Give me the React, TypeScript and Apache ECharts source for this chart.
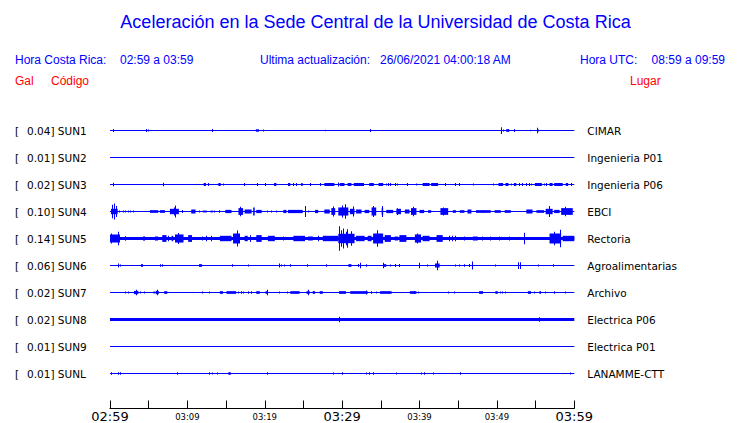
import React, { useEffect, useRef } from "react";
import * as echarts from "echarts";

// ---- data ----
const TRACE_CODES = ["SUN1", "SUN2", "SUN3", "SUN4", "SUN5", "SUN6", "SUN7", "SUN8", "SUN9", "SUNL"];
const TRACE_SCALES = ["0.04", "0.01", "0.02", "0.10", "0.14", "0.06", "0.02", "0.02", "0.01", "0.01"];
const TRACE_PLACES = ["CIMAR", "Ingenieria P01", "Ingenieria P06", "EBCI", "Rectoria", "Agroalimentarias", "Archivo", "Electrica P06", "Electrica P01", "LANAMME-CTT"];
// background noise level of each trace (fraction of half row)
const BASE_LEVEL = [0, 0, 0, 0, 0.12, 0, 0, 0.12, 0, 0];

// minutes after 02:59 ; [t, amp] single spike or [t0, t1, amp] burst
const SUN1_BURSTS = [[0.43, 0.12], [4.69, 0.12], [4.95, 0.07], [13.2, 0.12], [18.85, 19.25, 0.1], [19.8, 0.07], [27.8, 0.05], [33.6, 0.12], [50.6, 0.25], [50.9, 0.07], [51.2, 51.6, 0.1], [52.3, 0.12], [54.4, 0.05], [55.2, 0.2], [55.4, 0.07]];
const SUN2_BURSTS: number[][] = [];
const SUN3_BURSTS = [[0.43, 0.13], [6.88, 0.13], [12.1, 12.4, 0.11], [12.7, 0.11], [14.0, 14.3, 0.11], [14.7, 0.08], [17.4, 0.11], [19.05, 0.11], [20.1, 0.11], [21.2, 21.5, 0.11], [23.0, 23.3, 0.11], [23.7, 0.11], [24.1, 0.11], [24.7, 24.9, 0.11], [25.9, 0.11], [27.2, 0.11], [27.7, 29.0, 0.11], [29.5, 0.15], [29.7, 30.3, 0.11], [30.7, 31.2, 0.11], [31.5, 32.7, 0.11], [32.8, 0.11], [33.5, 34.1, 0.11], [34.7, 35.3, 0.11], [35.7, 0.08], [36.0, 0.11], [36.3, 0.11], [36.9, 0.11], [37.2, 0.08], [38.5, 0.11], [39.6, 0.08], [40.4, 41.3, 0.11], [41.5, 42.4, 0.11], [43.3, 0.11], [44.7, 0.11], [45.2, 0.11], [47.0, 0.08], [49.5, 0.08], [50.2, 50.8, 0.11], [51.1, 51.5, 0.11], [51.9, 0.08], [52.2, 52.5, 0.11], [52.9, 0.11], [53.3, 0.11], [53.8, 0.11], [54.2, 0.11], [54.5, 0.08], [54.9, 55.8, 0.11], [56.1, 0.08], [56.4, 0.11], [56.8, 57.2, 0.11], [57.4, 58.5, 0.11], [58.9, 59.2, 0.11], [59.6, 0.11]];
const SUN4_BURSTS = [[0.13, 0.99, 0.2], [0.3, 0.5], [0.52, 0.59], [0.8, 0.4], [1.29, 0.07], [1.72, 0.07], [2.02, 0.07], [2.37, 0.07], [2.67, 0.07], [3.05, 0.07], [5.16, 6.24, 0.1], [6.45, 7.1, 0.1], [7.74, 8.9, 0.2], [8.3, 0.3], [8.47, 0.44], [9.33, 0.12], [10.5, 11.05, 0.15], [11.6, 0.07], [12.0, 12.5, 0.07], [13.0, 13.3, 0.07], [13.5, 0.07], [14.2, 0.1], [14.9, 15.7, 0.12], [16.6, 17.2, 0.25], [16.9, 0.35], [17.4, 18.3, 0.15], [18.5, 18.7, 0.3], [18.9, 19.6, 0.12], [20.4, 0.07], [20.9, 0.07], [21.5, 0.07], [22.4, 22.8, 0.12], [23.0, 24.9, 0.12], [25.3, 0.4], [25.6, 0.07], [26.5, 26.9, 0.12], [27.7, 28.4, 0.15], [28.6, 29.1, 0.25], [28.9, 0.37], [29.5, 30.8, 0.3], [30.0, 0.44], [30.4, 0.54], [31.0, 31.6, 0.2], [31.5, 0.37], [31.8, 32.5, 0.15], [32.9, 33.5, 0.12], [33.8, 34.4, 0.3], [34.1, 0.4], [35.1, 35.3, 0.25], [35.2, 0.4], [35.7, 36.6, 0.12], [37.0, 37.6, 0.2], [37.2, 0.25], [38.1, 38.7, 0.15], [38.9, 39.6, 0.25], [39.2, 0.35], [40.0, 40.6, 0.12], [41.1, 41.5, 0.1], [42.7, 43.7, 0.25], [43.1, 0.3], [44.3, 44.7, 0.1], [45.2, 45.8, 0.1], [46.2, 46.7, 0.15], [47.3, 49.2, 0.1], [49.7, 50.5, 0.1], [51.0, 51.8, 0.1], [53.8, 54.6, 0.15], [55.1, 56.1, 0.1], [56.3, 57.2, 0.2], [56.8, 0.4], [57.4, 58.1, 0.12], [58.3, 59.8, 0.25], [58.9, 0.35]];
const SUN5_BURSTS = [[0, 1.29, 0.3], [0.22, 0.37], [1.08, 0.5], [2.0, 0.17], [4.3, 4.5, 0.17], [5.8, 6.2, 0.15], [6.75, 7.3, 0.25], [7.5, 0.2], [7.96, 8.17, 0.2], [8.4, 9.5, 0.3], [8.9, 0.4], [10.1, 10.6, 0.25], [12.0, 0.15], [12.5, 0.2], [13.1, 0.2], [14.2, 15.7, 0.2], [15.9, 16.8, 0.37], [16.5, 0.59], [17.4, 17.8, 0.2], [18.2, 0.25], [18.9, 19.6, 0.25], [20.4, 21.3, 0.2], [22.4, 0.15], [23.7, 25.2, 0.2], [25.6, 26.2, 0.15], [26.9, 0.2], [27.5, 29.5, 0.2], [29.5, 31.6, 0.35], [29.6, 0.91], [29.9, 0.62], [30.2, 0.74], [30.5, 0.5], [30.75, 0.69], [31.2, 0.54], [31.8, 32.9, 0.2], [33.3, 33.8, 0.2], [34.0, 35.3, 0.37], [34.6, 0.62], [35.5, 36.3, 0.25], [36.8, 37.2, 0.15], [37.4, 38.3, 0.25], [39.4, 40.2, 0.3], [39.8, 0.37], [40.4, 41.3, 0.2], [42.2, 43.0, 0.25], [43.9, 0.2], [44.3, 0.2], [44.7, 0.2], [45.8, 0.15], [46.9, 47.5, 0.15], [48.2, 0.15], [49.2, 0.15], [50.3, 0.15], [51.6, 0.15], [53.6, 0.42], [56.8, 58.3, 0.37], [57.4, 0.5], [58.2, 0.64], [58.5, 60, 0.2]];
const SUN6_BURSTS = [[1.08, 0.15], [1.42, 0.07], [4.0, 4.26, 0.1], [6.54, 0.1], [6.75, 0.1], [11.5, 11.9, 0.1], [15.8, 0.1], [17.85, 0.07], [21.85, 0.15], [22.1, 0.07], [22.6, 0.07], [23.3, 0.1], [25.5, 0.1], [27.96, 0.1], [30.8, 31.2, 0.1], [32.1, 0.12], [32.4, 0.2], [33.2, 0.1], [35.3, 35.7, 0.1], [35.4, 0.2], [36.3, 0.07], [36.9, 0.12], [37.4, 0.12], [40.0, 0.2], [41.0, 0.07], [42.0, 42.6, 0.15], [42.3, 0.35], [44.7, 0.07], [45.2, 0.07], [45.8, 0.1], [46.5, 0.12], [46.9, 0.3], [49.8, 0.07], [52.8, 0.25], [53.1, 0.25], [55.4, 0.07], [57.3, 0.1]];
const SUN7_BURSTS = [[2.0, 0.07], [2.37, 0.07], [3.1, 3.66, 0.12], [3.4, 0.2], [4.0, 0.07], [4.5, 0.07], [5.6, 5.8, 0.07], [5.9, 6.3, 0.12], [6.1, 0.2], [7.0, 7.4, 0.1], [12.0, 0.07], [12.9, 0.07], [14.2, 14.6, 0.1], [15.05, 16.3, 0.1], [16.6, 0.07], [17.0, 0.1], [17.2, 0.07], [17.9, 0.1], [18.3, 0.1], [18.9, 19.35, 0.1], [20.1, 20.4, 0.1], [20.3, 0.2], [21.85, 0.07], [23.0, 0.07], [23.3, 24.5, 0.1], [25.4, 25.8, 0.1], [25.6, 0.2], [26.2, 26.5, 0.1], [27.1, 27.5, 0.1], [29.6, 30.5, 0.1], [31.05, 33.3, 0.1], [33.1, 0.15], [33.8, 0.1], [34.5, 0.07], [34.9, 36.3, 0.1], [36.4, 0.07], [38.75, 39.6, 0.1], [39.3, 0.12], [39.9, 0.07], [43.8, 0.07], [44.5, 0.07], [47.7, 48.2, 0.1], [49.8, 50.1, 0.1], [50.4, 0.07], [50.75, 0.07], [51.05, 0.07], [54.0, 54.4, 0.1], [54.8, 0.07], [55.5, 55.7, 0.1], [56.3, 0.07], [57.5, 0.1], [58.9, 0.07]];
const SUN8_BURSTS = [[29.7, 0.2], [55.5, 0.17]];
const SUN9_BURSTS: number[][] = [];
const SUNL_BURSTS = [[0.13, 0.1], [1.08, 0.1], [1.33, 0.1], [8.73, 0.1], [12.8, 0.1], [13.2, 0.07], [13.85, 0.07], [15.3, 15.6, 0.1], [20.3, 0.1], [28.9, 0.07], [30.0, 0.1], [33.1, 0.07], [33.5, 0.1], [34.0, 0.1], [37.0, 0.07], [40.2, 0.07], [40.6, 0.1], [41.85, 0.07], [45.3, 0.1], [59.5, 0.07]];

const ALL_BURSTS = [SUN1_BURSTS, SUN2_BURSTS, SUN3_BURSTS, SUN4_BURSTS, SUN5_BURSTS, SUN6_BURSTS, SUN7_BURSTS, SUN8_BURSTS, SUN9_BURSTS, SUNL_BURSTS];

const TICK_LABELS = ["02:59", "", "03:09", "", "03:19", "", "03:29", "", "03:39", "", "03:49", "", "03:59"];
const MAJOR_LABELS = ["02:59", "03:29", "03:59"];

const TITLE = "Aceleración en la Sede Central de la Universidad de Costa Rica";
const HEADER_CR_LABEL = "Hora Costa Rica:";
const HEADER_CR_RANGE = "02:59 a 03:59";
const HEADER_UPDATE_LABEL = "Ultima actualización:";
const HEADER_UPDATE_VALUE = "26/06/2021 04:00:18 AM";
const HEADER_UTC_LABEL = "Hora UTC:";
const HEADER_UTC_RANGE = "08:59 a 09:59";

const BLUE = "#0000ff";
const RED = "#ff0000";
const SANS = '"Liberation Sans", Arial, sans-serif';
const DEJAVU = '"DejaVu Sans", sans-serif';

export default function App() {
  const ref = useRef<HTMLDivElement>(null);
  useEffect(() => {
    if (!ref.current) return;
    const chart = echarts.init(ref.current, null, { renderer: "svg" });

    const traceSeries = ALL_BURSTS.map((bursts, k) => {
      const rows: number[][] = [[0, 60, BASE_LEVEL[k], k]];
      bursts.forEach((b) => {
        if (b.length === 2) rows.push([b[0], b[0], b[1], k]);
        else rows.push([b[0], b[1], b[2], k]);
      });
      return {
        type: "custom",
        name: TRACE_CODES[k],
        data: rows,
        encode: { x: [0, 1], y: 3 },
        renderItem: (params: any, api: any) => {
          const s = api.value(0), e = api.value(1), a = api.value(2), kk = api.value(3);
          const p1 = api.coord([s, kk - a / 2]);
          const p2 = api.coord([e, kk + a / 2]);
          let x = Math.min(p1[0], p2[0]);
          let w = Math.abs(p2[0] - p1[0]);
          let y = Math.min(p1[1], p2[1]);
          let h = Math.abs(p2[1] - p1[1]);
          if (w < 1) { x = Math.round(x + w / 2 - 0.5); w = 1; }
          if (h < 1) { y = y + h / 2 - 0.5; h = 1; }
          return { type: "rect", shape: { x, y, width: w, height: h }, style: { fill: BLUE } };
        },
      };
    });

    const labelSeries = {
      type: "custom",
      name: "labels",
      data: TRACE_CODES.map((_, k) => [0, k]),
      encode: { x: 0, y: 1 },
      renderItem: (params: any, api: any) => {
        const k = api.value(1);
        const pl = api.coord([0, k]);
        const pr = api.coord([60, k]);
        const font = "10.5px " + DEJAVU;
        return {
          type: "group",
          children: [
            { type: "text", x: 15, y: pl[1], style: { text: "[", fill: "#000", font, textVerticalAlign: "middle", textAlign: "left" } },
            { type: "text", x: 27, y: pl[1], style: { text: TRACE_SCALES[k] + "] " + TRACE_CODES[k], fill: "#000", font, textVerticalAlign: "middle", textAlign: "left" } },
            { type: "text", x: pr[0] + 13, y: pl[1], style: { text: TRACE_PLACES[k], fill: "#000", font, textVerticalAlign: "middle", textAlign: "left" } },
          ],
        };
      },
    };

    const headerText = (text: string, x: number, y: number, color: string, size: number, align = "left") => ({
      type: "text",
      x,
      y,
      style: { text, fill: color, font: `${size}px ${SANS}`, textAlign: align, textVerticalAlign: "middle" },
    });

    chart.setOption({
      animation: false,
      backgroundColor: "#fff",
      grid: { left: 110, right: 165.7, top: 103.5, bottom: 14.5 },
      xAxis: {
        type: "value",
        position: "bottom",
        min: 0,
        max: 60,
        interval: 5,
        splitLine: { show: false },
        axisLine: { show: true, onZero: false, lineStyle: { color: "#000", width: 1 } },
        axisTick: { show: true, inside: true, length: 8, lineStyle: { color: "#000" } },
        axisLabel: {
          show: true,
          margin: 1,
          showMinLabel: true,
          showMaxLabel: true,
          hideOverlap: false,
          formatter: (v: number) => {
            const lbl = TICK_LABELS[Math.round(v / 5)] || "";
            if (!lbl) return "";
            return MAJOR_LABELS.includes(lbl) ? `{big|${lbl}}` : `{small|${lbl}}`;
          },
          rich: {
            big: { fontSize: 13, fontFamily: DEJAVU, color: "#000", lineHeight: 14 },
            small: { fontSize: 8.5, fontFamily: DEJAVU, color: "#000", lineHeight: 14 },
          },
        },
      },
      yAxis: {
        type: "value",
        inverse: true,
        min: -1,
        max: 305 / 27 - 1,
        show: false,
        splitLine: { show: false },
      },
      graphic: [
        headerText(TITLE, 375.5, 22, BLUE, 18, "center"),
        headerText(HEADER_CR_LABEL, 15, 60, BLUE, 12),
        headerText(HEADER_CR_RANGE, 120, 60, BLUE, 12),
        headerText(HEADER_UPDATE_LABEL, 260, 60, BLUE, 12),
        headerText(HEADER_UPDATE_VALUE, 380, 60, BLUE, 12),
        headerText(HEADER_UTC_LABEL, 580, 60, BLUE, 12),
        headerText(HEADER_UTC_RANGE, 725, 60, BLUE, 12, "right"),
        headerText("Gal", 15, 81, RED, 12),
        headerText("Código", 51, 81, RED, 12),
        headerText("Lugar", 630, 81, RED, 12),
      ],
      series: [...traceSeries, labelSeries],
    });
    return () => chart.dispose();
  }, []);
  return <div ref={ref} style={{ position: "absolute", left: 0, top: 0, width: 740, height: 423 }} />;
}
